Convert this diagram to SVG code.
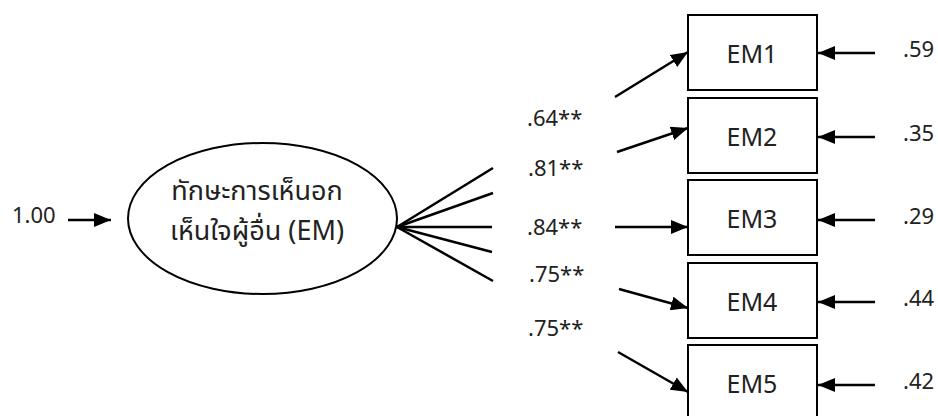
<svg xmlns="http://www.w3.org/2000/svg" width="938" height="416" viewBox="0 0 938 416">
  <style>
    text { font-family: "Noto Sans Thai", "Leelawadee UI", "Noto Sans", "DejaVu Sans", sans-serif; fill: #222; }
    .lbl { font-size: 22px; }
    .name { font-size: 27px; }
    .item { font-size: 25px; }
    .box { fill: #fff; stroke: #000; stroke-width: 2; }
    .edge { stroke: #000; stroke-width: 2.5; fill: none; }
  </style>
  <defs>
    <marker id="arrow" markerUnits="userSpaceOnUse" markerWidth="17" markerHeight="14" refX="17" refY="7" orient="auto">
      <path d="M0,0 L17,7 L0,14 Z" fill="#000"/>
    </marker>
  </defs>

  <!-- latent factor -->
  <g id="EM">
    <ellipse cx="262.5" cy="218.5" rx="134.5" ry="75.5" fill="#fff" stroke="#000" stroke-width="2"/>
    <text x="257" y="200" class="name" text-anchor="middle">ทักษะการเห็นอก</text>
    <text x="257" y="240" class="name" text-anchor="middle">เห็นใจผู้อื่น (EM)</text>
  </g>

  <!-- indicators -->
  <g id="EM1"><rect class="box" x="688" y="15" width="129" height="75"/><text x="752" y="63" class="item" text-anchor="middle">EM1</text></g>
  <g id="EM2"><rect class="box" x="688" y="98" width="129" height="75"/><text x="752" y="146" class="item" text-anchor="middle">EM2</text></g>
  <g id="EM3"><rect class="box" x="688" y="180" width="129" height="75"/><text x="752" y="228" class="item" text-anchor="middle">EM3</text></g>
  <g id="EM4"><rect class="box" x="688" y="263" width="129" height="75"/><text x="752" y="311" class="item" text-anchor="middle">EM4</text></g>
  <g id="EM5"><rect class="box" x="688" y="345" width="129" height="75"/><text x="752" y="393" class="item" text-anchor="middle">EM5</text></g>

  <!-- connectors -->
  <g id="connectors">
    <line class="edge" x1="68" y1="220" x2="111" y2="220" marker-end="url(#arrow)"/>

    <line class="edge" x1="397" y1="227" x2="493" y2="168"/>
    <line class="edge" x1="397" y1="227" x2="493" y2="193"/>
    <line class="edge" x1="397" y1="227" x2="492" y2="227"/>
    <line class="edge" x1="397" y1="227" x2="492" y2="252"/>
    <line class="edge" x1="397" y1="227" x2="493" y2="281"/>

    <line class="edge" x1="615" y1="97" x2="688" y2="52" marker-end="url(#arrow)"/>
    <line class="edge" x1="617" y1="152" x2="688" y2="128" marker-end="url(#arrow)"/>
    <line class="edge" x1="615" y1="227" x2="688" y2="227" marker-end="url(#arrow)"/>
    <line class="edge" x1="619" y1="289" x2="688" y2="308" marker-end="url(#arrow)"/>
    <line class="edge" x1="618" y1="352" x2="688" y2="392" marker-end="url(#arrow)"/>

    <line class="edge" x1="875" y1="53" x2="818" y2="53" marker-end="url(#arrow)"/>
    <line class="edge" x1="875" y1="137" x2="818" y2="137" marker-end="url(#arrow)"/>
    <line class="edge" x1="875" y1="220" x2="818" y2="220" marker-end="url(#arrow)"/>
    <line class="edge" x1="875" y1="302" x2="818" y2="302" marker-end="url(#arrow)"/>
    <line class="edge" x1="875" y1="385" x2="818" y2="385" marker-end="url(#arrow)"/>
  </g>

  <!-- coefficients -->
  <g id="labels">
    <text x="12" y="223" class="lbl">1.00</text>
    <text x="527" y="126" class="lbl">.64**</text>
    <text x="528" y="176" class="lbl">.81**</text>
    <text x="527" y="235" class="lbl">.84**</text>
    <text x="529" y="282" class="lbl">.75**</text>
    <text x="528" y="336" class="lbl">.75**</text>
    <text x="903" y="57" class="lbl">.59</text>
    <text x="903" y="141" class="lbl">.35</text>
    <text x="903" y="224" class="lbl">.29</text>
    <text x="903" y="306" class="lbl">.44</text>
    <text x="903" y="389" class="lbl">.42</text>
  </g>
</svg>
